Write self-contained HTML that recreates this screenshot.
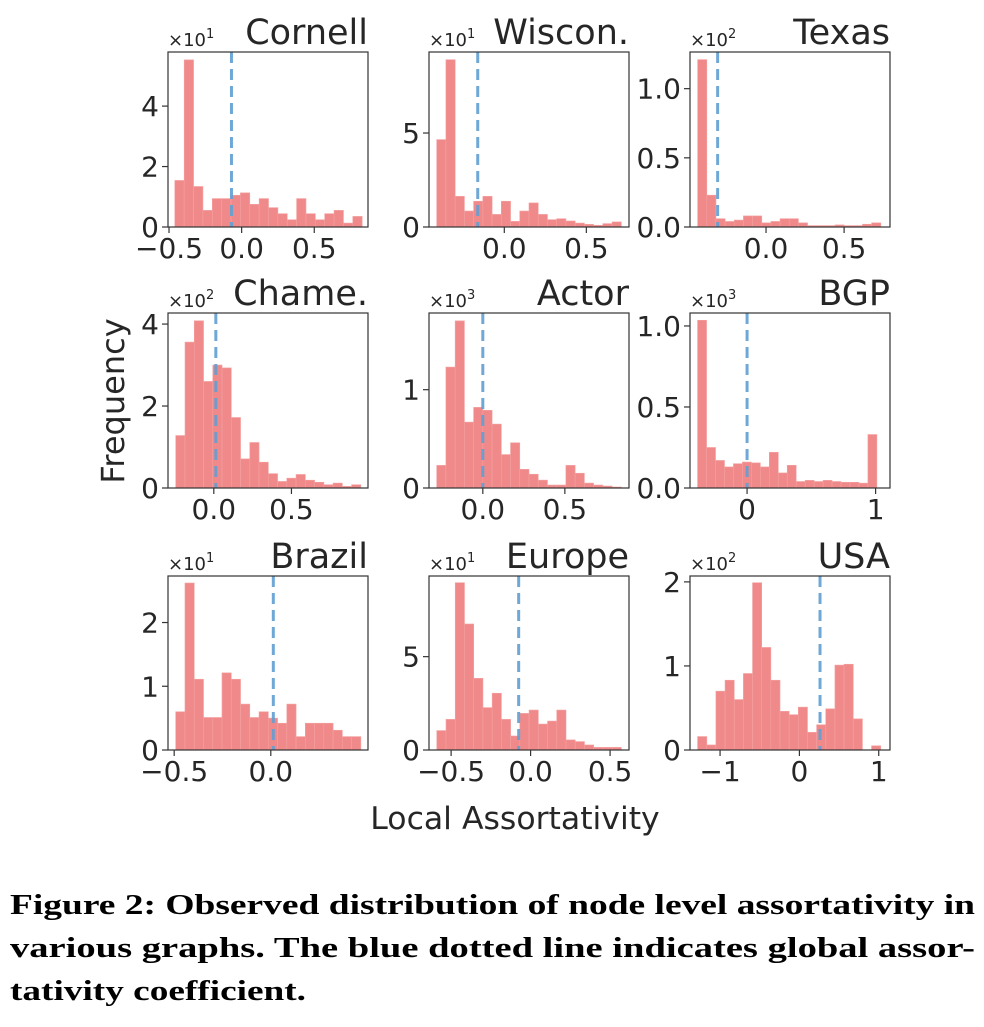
<!DOCTYPE html>
<html><head><meta charset="utf-8">
<style>
html,body{margin:0;padding:0;background:#fff;}
svg{display:block;}
text{font-family:"DejaVu Sans","Liberation Sans",sans-serif;fill:#262626;}
.cap{font-family:"Liberation Serif",serif;font-weight:bold;font-size:28px;fill:#000;}
</style></head>
<body>
<svg id="fig" width="984" height="1027" viewBox="0 0 984 1027" xmlns="http://www.w3.org/2000/svg">
<text x="0" y="0" font-size="32" text-anchor="middle" transform="translate(124,401) rotate(-90)">Frequency</text>
<text x="515" y="829" font-size="31.5" text-anchor="middle">Local Assortativity</text>
<text class="cap" x="10" y="914" textLength="965" lengthAdjust="spacingAndGlyphs">Figure 2: Observed distribution of node level assortativity in</text>
<text class="cap" x="10" y="957" textLength="965" lengthAdjust="spacingAndGlyphs">various graphs. The blue dotted line indicates global assor-</text>
<text class="cap" x="10" y="1000" textLength="296" lengthAdjust="spacingAndGlyphs">tativity coefficient.</text>
</svg>
<script>
// ---- data ----
const titles = ["Cornell","Wiscon.","Texas","Chame.","Actor","BGP","Brazil","Europe","USA"];
const exponents = ["1","1","2","2","3","3","1","1","2"];
const cornellCounts = [1.54,5.53,1.34,0.55,0.94,0.94,1.05,1.13,0.75,0.94,0.64,0.44,0.24,0.94,0.44,0.24,0.44,0.55,0.13,0.35];
const wisconCounts = [4.65,8.9,1.63,0.85,1.37,1.63,0.67,1.37,0.3,0.85,1.28,0.67,0.39,0.44,0.32,0.21,0.14,0.09,0.18,0.27];
const texasCounts = [1.21,0.23,0.06,0.04,0.05,0.08,0.08,0.03,0.04,0.06,0.06,0.03,0.01,0.01,0.01,0.015,0.01,0.01,0.02,0.03];
const chameCounts = [1.28,3.56,4.08,2.6,3.0,2.93,1.72,0.71,1.11,0.63,0.35,0.16,0.24,0.33,0.19,0.14,0.08,0.12,0.04,0.08];
const actorCounts = [0.23,1.23,1.70,0.67,0.82,0.79,0.65,0.34,0.46,0.19,0.14,0.08,0.03,0.03,0.23,0.15,0.05,0.03,0.02,0.01];
const bgpCounts = [1.035,0.25,0.17,0.13,0.15,0.16,0.155,0.13,0.22,0.093,0.14,0.04,0.047,0.04,0.047,0.04,0.035,0.035,0.03,0.33];
const brazilCounts = [0.60,2.62,1.11,0.51,0.51,1.21,1.11,0.72,0.51,0.60,0.50,0.42,0.72,0.21,0.42,0.42,0.42,0.31,0.21,0.21];
const europeCounts = [1.04,1.64,8.96,6.75,3.84,2.27,3.04,1.64,0.75,1.96,2.14,1.39,1.55,2.14,0.54,0.45,0.27,0.14,0.14,0.14];
const usaCounts = [0.16,0.06,0.70,0.83,0.60,0.91,1.99,1.22,0.83,0.46,0.42,0.51,0.21,0.30,0.49,1.01,1.02,0.37,0,0.05];
const allCounts = [cornellCounts,wisconCounts,texasCounts,chameCounts,actorCounts,bgpCounts,brazilCounts,europeCounts,usaCounts];
const binLo = [-0.46,-0.412,-0.438,-0.245,-0.281,-0.385,-0.492,-0.59,-1.283];
const binHi = [0.83,0.713,0.735,0.947,0.844,1.01,0.466,0.571,1.025];
const xMin = [-0.507,-0.459,-0.487,-0.295,-0.328,-0.444,-0.532,-0.639,-1.379];
const xMax = [0.87,0.76,0.794,0.993,0.891,1.112,0.503,0.619,1.142];
const yMax = [5.79,9.31,1.265,4.27,1.78,1.08,2.73,9.32,2.07];
const globalAssort = [-0.07,-0.162,-0.31,0.013,0.0,0.0,0.013,-0.075,0.26];
const xTicks = [[-0.5,0,0.5],[0,0.5],[0,0.5],[0,0.5],[0,0.5],[0,1],[-0.5,0],[-0.5,0,0.5],[-1,0,1]];
const xTickLabels = [["−0.5","0.0","0.5"],["0.0","0.5"],["0.0","0.5"],["0.0","0.5"],["0.0","0.5"],["0","1"],["−0.5","0.0"],["−0.5","0.0","0.5"],["−1","0","1"]];
const yTicks = [[0,2,4],[0,5],[0,0.5,1],[0,2,4],[0,1],[0,0.5,1],[0,1,2],[0,5],[0,1,2]];
const yTickLabels = [["0","2","4"],["0","5"],["0.0","0.5","1.0"],["0","2","4"],["0","1"],["0.0","0.5","1.0"],["0","1","2"],["0","5"],["0","1","2"]];

// ---- layout ----
const colX = [168,429,690], boxW = 200;
const rowTop = [52,313,576], rowBot = [227,488,750];
const NS = "http://www.w3.org/2000/svg";
const svg = document.getElementById("fig");
function mk(tag, attrs, parent){
  const e = document.createElementNS(NS, tag);
  for (const k in attrs) e.setAttribute(k, attrs[k]);
  (parent||svg).appendChild(e); return e;
}
for (let p=0;p<9;p++){
  const r=Math.floor(p/3), c=p%3;
  const L=colX[c], R=L+boxW, T=rowTop[r], B=rowBot[r];
  const g = mk("g",{});
  
  
  const xs = v => L + (v - xMin[p])/(xMax[p]-xMin[p])*boxW;
  const ys = v => B - v/yMax[p]*(B-T);
  const counts = allCounts[p];
  const n = counts.length, w = (binHi[p]-binLo[p])/n;
  for (let i=0;i<n;i++){
    const x0=xs(binLo[p]+i*w), x1=xs(binLo[p]+(i+1)*w), y0=ys(counts[i]);
    const b = mk("rect",{x:x0,y:y0,width:x1-x0,height:B-y0,fill:"#ef8080","fill-opacity":"0.92",stroke:"#f4a0a0","stroke-width":"0.6"},g);
    
    
  }
  const gl = mk("line",{x1:xs(globalAssort[p]),x2:xs(globalAssort[p]),y1:T,y2:B,stroke:"#5f9fd3","stroke-width":"3","stroke-dasharray":"11,6","stroke-opacity":"0.9"},g);
  
  
  const box = mk("rect",{x:L,y:T,width:boxW,height:B-T,fill:"none",stroke:"#333","stroke-width":"1.2"},g);
  
  
  xTicks[p].forEach((v,i)=>{
    const x=xs(v);
    mk("line",{x1:x,x2:x,y1:B,y2:B+6,stroke:"#333","stroke-width":"1.2"},g);
    const t=mk("text",{x:x,y:B+31,"font-size":"28","text-anchor":"middle"},g);
    t.textContent=xTickLabels[p][i];
    
    
  });
  yTicks[p].forEach((v,i)=>{
    const y=ys(v);
    mk("line",{x1:L-6,x2:L,y1:y,y2:y,stroke:"#333","stroke-width":"1.2"},g);
    const t=mk("text",{x:L-9,y:y+10,"font-size":"28","text-anchor":"end"},g);
    t.textContent=yTickLabels[p][i];
    
    
  });
  const ti=mk("text",{x:R,y:T-8,"font-size":"35","text-anchor":"end"},g);
  ti.textContent=titles[p];
  
  
  const ex=mk("text",{x:L,y:T-6,"font-size":"18"},g);
  ex.textContent="×10";
  const sup=mk("tspan",{dy:"-8","font-size":"13"},ex);
  sup.textContent=exponents[p];
  
  
}
</script>
</body></html>
